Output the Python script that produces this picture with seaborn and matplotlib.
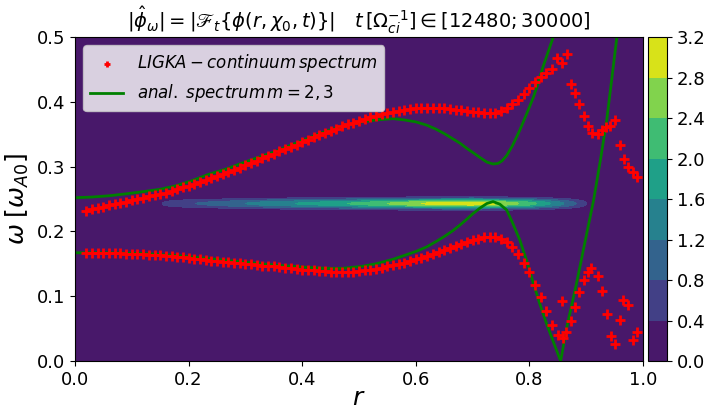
import numpy as np
import matplotlib
matplotlib.use("Agg")
import matplotlib.pyplot as plt
import seaborn as sns

# ---------------- data ----------------
# colour-field levels (colorbar)
levels = [0.0, 0.4, 0.8, 1.2, 1.6, 2.0, 2.4, 2.8, 3.2]

# |phi_omega| ridge: amplitude along r, centred at omega_c with small width
blob_r = [0.13, 0.16, 0.20, 0.25, 0.30, 0.35, 0.40, 0.45, 0.50, 0.55, 0.60,
          0.65, 0.70, 0.75, 0.80, 0.85, 0.88, 0.92]
blob_amp = [0.0, 0.50, 0.75, 0.95, 1.20, 1.45, 1.65, 1.85, 2.10, 2.40, 2.75,
            3.00, 3.10, 2.75, 2.20, 1.40, 0.85, 0.0]
blob_center = 0.243
blob_sigma = 0.0052

# LIGKA continuum spectrum, upper branch (dense part, r = 0.02 ... 0.84)
lig_up_r = np.round(np.arange(2, 85) / 100.0, 2)
lig_up_w = [0.232, 0.234, 0.236, 0.238, 0.240, 0.242, 0.244, 0.246, 0.248, 0.250,
            0.252, 0.254, 0.256, 0.258, 0.260, 0.263, 0.265, 0.268, 0.270, 0.273,
            0.276, 0.279, 0.282, 0.285, 0.288, 0.291, 0.295, 0.298, 0.302, 0.305,
            0.309, 0.313, 0.316, 0.320, 0.324, 0.327, 0.331, 0.334, 0.338, 0.341,
            0.345, 0.348, 0.352, 0.355, 0.358, 0.362, 0.365, 0.368, 0.371, 0.374,
            0.376, 0.378, 0.381, 0.383, 0.384, 0.386, 0.387, 0.389, 0.390, 0.391,
            0.391, 0.391, 0.391, 0.390, 0.389, 0.388, 0.387, 0.386, 0.385, 0.384,
            0.383, 0.382, 0.383, 0.386, 0.390, 0.396, 0.403, 0.412, 0.422, 0.431,
            0.439, 0.445, 0.450]
# LIGKA continuum spectrum, lower branch (dense part, r = 0.02 ... 0.86)
lig_lo_r = np.round(np.arange(2, 87) / 100.0, 2)
lig_lo_w = [0.166, 0.166, 0.166, 0.166, 0.166, 0.166, 0.166, 0.165, 0.165, 0.165,
            0.165, 0.164, 0.164, 0.163, 0.162, 0.162, 0.161, 0.160, 0.159, 0.158,
            0.157, 0.156, 0.155, 0.154, 0.153, 0.153, 0.152, 0.151, 0.150, 0.149,
            0.148, 0.147, 0.147, 0.146, 0.145, 0.144, 0.143, 0.142, 0.141, 0.141,
            0.140, 0.139, 0.139, 0.138, 0.138, 0.138, 0.138, 0.138, 0.139, 0.140,
            0.141, 0.142, 0.144, 0.146, 0.148, 0.150, 0.152, 0.154, 0.157, 0.159,
            0.162, 0.165, 0.168, 0.171, 0.175, 0.178, 0.181, 0.184, 0.187, 0.189,
            0.191, 0.192, 0.191, 0.188, 0.183, 0.176, 0.165, 0.152, 0.137, 0.117,
            0.098, 0.077, 0.055, 0.040, 0.036]
# LIGKA scattered points near the edge
lig_sc_r = [0.849, 0.857, 0.866, 0.873, 0.880, 0.888, 0.896, 0.904, 0.911, 0.920,
            0.927, 0.935, 0.942, 0.951, 0.960, 0.967, 0.974, 0.983, 0.990,
            0.857, 0.864, 0.873, 0.880, 0.888, 0.896, 0.903, 0.909, 0.920, 0.927,
            0.936, 0.943, 0.950, 0.960, 0.965, 0.973, 0.983, 0.990]
lig_sc_w = [0.468, 0.460, 0.473, 0.428, 0.414, 0.397, 0.378, 0.362, 0.352, 0.351,
            0.357, 0.361, 0.362, 0.372, 0.333, 0.311, 0.300, 0.292, 0.284,
            0.092, 0.044, 0.062, 0.084, 0.107, 0.125, 0.138, 0.143, 0.131, 0.108,
            0.073, 0.038, 0.027, 0.064, 0.094, 0.087, 0.032, 0.044]

# analytical continuum m = 2,3 : upper curve
an_up_r = [0.0, 0.03, 0.06, 0.09, 0.117, 0.15, 0.176, 0.205, 0.235, 0.265, 0.293,
           0.322, 0.352, 0.38, 0.40, 0.42, 0.44, 0.47, 0.505, 0.53, 0.56, 0.58,
           0.60, 0.619, 0.635, 0.65, 0.665, 0.678, 0.69, 0.70, 0.713, 0.725,
           0.736, 0.745, 0.752, 0.760, 0.77, 0.783, 0.795, 0.807, 0.815, 0.824,
           0.833, 0.842, 0.852]
an_up_w = [0.252, 0.253, 0.255, 0.258, 0.261, 0.265, 0.270, 0.278, 0.288, 0.296,
           0.305, 0.314, 0.323, 0.333, 0.340, 0.347, 0.354, 0.362, 0.369, 0.372,
           0.374, 0.372, 0.369, 0.364, 0.358, 0.351, 0.343, 0.336, 0.328, 0.322,
           0.314, 0.307, 0.304, 0.305, 0.309, 0.317, 0.332, 0.356, 0.381, 0.407,
           0.428, 0.454, 0.477, 0.500, 0.525]
# analytical continuum m = 2,3 : lower curve (reflected through omega = 0)
an_lo_r = [0.0, 0.06, 0.117, 0.176, 0.235, 0.293, 0.352, 0.40, 0.44, 0.47, 0.505,
           0.53, 0.56, 0.58, 0.60, 0.619, 0.635, 0.65, 0.665, 0.678, 0.69, 0.70,
           0.713, 0.725, 0.736, 0.748, 0.760, 0.770, 0.783, 0.795, 0.807, 0.818,
           0.830, 0.842, 0.855, 0.866, 0.883, 0.901, 0.913, 0.925, 0.936, 0.945,
           0.954, 0.958]
an_lo_w = [0.167, 0.167, 0.166, 0.163, 0.158, 0.153, 0.148, 0.145, 0.143, 0.143,
           0.146, 0.150, 0.157, 0.163, 0.169, 0.176, 0.184, 0.192, 0.201, 0.210,
           0.219, 0.227, 0.236, 0.243, 0.246, 0.242, 0.233, 0.214, 0.187, 0.155,
           0.120, 0.089, 0.058, 0.030, 0.000, 0.053, 0.120, 0.197, 0.248, 0.310,
           0.371, 0.435, 0.500, 0.530]

# ---------------- figure ----------------
fig = plt.figure(figsize=(7.04, 4.12), dpi=100)
ax = fig.add_axes([75 / 704, 51 / 412, 568 / 704, 324 / 412])
cax = fig.add_axes([648 / 704, 51 / 412, 19 / 704, 324 / 412])

r_grid = np.linspace(0, 1, 501)
w_grid = np.linspace(0, 0.5, 1001)
R, W = np.meshgrid(r_grid, w_grid)
amp = np.interp(r_grid, blob_r, blob_amp)
Z = amp[None, :] * np.exp(-0.5 * ((W - blob_center) / blob_sigma) ** 2)
cf = ax.contourf(R, W, Z, levels=levels, cmap="viridis")
cb = fig.colorbar(cf, cax=cax, ticks=levels)
cb.ax.tick_params(labelsize=13)

red_kw = dict(marker="+", color="red", s=42, linewidth=2.0, ax=ax, zorder=3)
sns.scatterplot(x=lig_up_r, y=lig_up_w, label=r"$LIGKA-continuum\,spectrum$", **red_kw)
sns.scatterplot(x=lig_lo_r, y=lig_lo_w, **red_kw)
sns.scatterplot(x=lig_sc_r, y=lig_sc_w, **red_kw)

sns.lineplot(x=an_up_r, y=an_up_w, sort=False, estimator=None, color="green",
             lw=2, ax=ax, label=r"$anal.\;spectrum\,m=2,3$", zorder=2)
sns.lineplot(x=an_lo_r, y=an_lo_w, sort=False, estimator=None, color="green",
             lw=2, ax=ax, zorder=2)

ax.set_xlim(0, 1)
ax.set_ylim(0, 0.5)
ax.set_xticks([0.0, 0.2, 0.4, 0.6, 0.8, 1.0])
ax.set_yticks([0.0, 0.1, 0.2, 0.3, 0.4, 0.5])
ax.tick_params(labelsize=13)
ax.set_xlabel(r"$r$", fontsize=18, labelpad=-2)
ax.set_ylabel(r"$\omega\;[\omega_{A0}]$", fontsize=18)
ax.set_title(r"$|\hat{\phi}_\omega| = |\mathscr{F}_t\{\phi(r,\chi_0,t)\}|\quad t\,[\Omega_{ci}^{-1}] \in [12480;30000]$",
             fontsize=14)
leg = ax.legend(loc="upper left", fontsize=12, scatterpoints=1)
leg.legend_handles[0].set_sizes([25])

fig.savefig("out.png", dpi=100)
